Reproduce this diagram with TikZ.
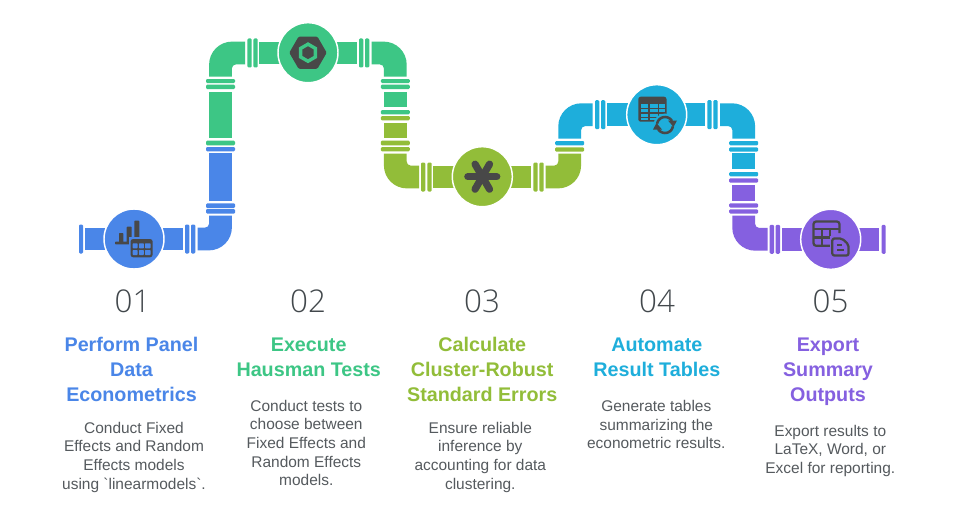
\documentclass[tikz,border=0pt]{standalone}
\usepackage{fontspec}
\setmainfont{Liberation Sans}
\newfontfamily\numfont{Open Sans Light}
\newfontfamily\bodyfont{Liberation Sans}
\definecolor{cblue}{HTML}{4A86E8}
\definecolor{cgreen}{HTML}{3DC685}
\definecolor{colive}{HTML}{92BD39}
\definecolor{ccyan}{HTML}{1EAEDB}
\definecolor{cpurple}{HTML}{8560E0}
\definecolor{cdark}{HTML}{484848}
\definecolor{cink}{HTML}{555A5E}
\definecolor{cnum}{HTML}{42484C}
\def\w{11.4}
\newcommand\hfl[4]{\fill[#1,rounded corners=.9pt] (#2,#4-14.5) rectangle (#3,#4+14.5);}
\newcommand\vfl[4]{\fill[#1,rounded corners=.9pt] (#4-14.5,#2) rectangle (#4+14.5,#3);}
\newcommand\hpipe[4]{\fill[#1] (#2,#4-\w) rectangle (#3,#4+\w);}
\newcommand\vpipe[4]{\fill[#1] (#4-\w,#2) rectangle (#4+\w,#3);}
\newcommand\elbow[7]{\fill[#1]
 ({#2},{#3+#7*\w}) -- ({#4+#6*(\w+4)},{#3+#7*\w})
 .. controls ({#4+#6*(\w+1.8)},{#3+#7*\w}) and ({#4+#6*\w},{#3+#7*(\w+1.8)}) .. ({#4+#6*\w},{#3+#7*(\w+4)})
 -- ({#4+#6*\w},{#5}) -- ({#4-#6*\w},{#5}) -- ({#4-#6*\w},{#3+#7*(23-\w)})
 .. controls ({#4-#6*\w},{#3+#7*(10.3-\w)}) and ({#4+#6*(10.3-\w)},{#3-#7*\w}) .. ({#4+#6*(23-\w)},{#3-#7*\w})
 -- ({#2},{#3-#7*\w}) -- cycle;}
\tikzset{
 x=.75pt,y=-.75pt,
 hub/.style={circle,draw=white,line width=1.1pt,minimum size=45pt,inner sep=0pt},
 num/.style={font=\numfont\fontsize{23.5}{28}\selectfont,text=cnum,inner sep=0pt},
 ttl/.style={font=\bfseries\fontsize{14.8}{18.75}\selectfont,align=center,inner sep=0pt,execute at begin node=\strut,execute at end node=\strut},
 bdy/.style={font=\bodyfont\fontsize{11.6}{14}\selectfont,align=center,text=cink,inner sep=0pt,execute at begin node=\strut,execute at end node=\strut},
 icon/.style={cdark},
 iconline/.style={draw=cdark,line width=1.7pt}
}
\begin{document}
\begin{tikzpicture}
\useasboundingbox (0,0) rectangle (980,517);
\fill[white] (0,0) rectangle (980,517);
% --- blue pipe
\hfl{cblue}{79}{83}{239}
\hpipe{cblue}{85}{110}{239}
\hpipe{cblue}{160}{183.3}{239}
\hfl{cblue}{185}{189.3}{239}
\hfl{cblue}{191}{195.3}{239}
\elbow{cblue}{197.7}{239}{220.5}{215.7}{-1}{-1}
\vfl{cblue}{203.3}{208}{220.5}
\vfl{cblue}{209}{213.7}{220.5}
\vpipe{cblue}{153.3}{200.7}{220.5}
\vfl{cblue}{147}{151.3}{220.5}
% --- green pipe
\vfl{cgreen}{140.7}{145.3}{220.5}
\vpipe{cgreen}{91.7}{138.3}{220.5}
\vfl{cgreen}{84.7}{89}{220.5}
\vfl{cgreen}{79}{83}{220.5}
\elbow{cgreen}{245}{53}{220.5}{76.5}{1}{1}
\hfl{cgreen}{247.3}{251.7}{53}
\hfl{cgreen}{253.3}{257.7}{53}
\hpipe{cgreen}{259.3}{285}{53}
\hpipe{cgreen}{330}{356.7}{53}
\hfl{cgreen}{359}{363.3}{53}
\hfl{cgreen}{365}{369.3}{53}
\elbow{cgreen}{371.7}{53}{395.3}{76.5}{-1}{1}
\vfl{cgreen}{79}{83}{395.3}
\vfl{cgreen}{84.7}{89}{395.3}
\vpipe{cgreen}{91.7}{107.3}{395.3}
\vfl{cgreen}{110}{114.3}{395.3}
% --- olive pipe
\vfl{colive}{116}{120.3}{395.3}
\vpipe{colive}{122.7}{138.3}{395.3}
\vfl{colive}{140.7}{145.3}{395.3}
\vfl{colive}{147}{151.3}{395.3}
\elbow{colive}{419}{177}{395.3}{153.7}{1}{-1}
\hfl{colive}{421}{425.3}{177}
\hfl{colive}{427.3}{431.7}{177}
\hpipe{colive}{433.3}{460}{177}
\hpipe{colive}{505}{531}{177}
\hfl{colive}{533.3}{537.7}{177}
\hfl{colive}{539.3}{543.7}{177}
\elbow{colive}{545.7}{177}{569.7}{153.5}{-1}{-1}
\vfl{colive}{147.3}{151.7}{569.7}
% --- cyan pipe
\vfl{ccyan}{141}{145.3}{569.7}
\elbow{ccyan}{592.7}{114.7}{569.7}{138.5}{1}{1}
\hfl{ccyan}{595}{599.3}{114.7}
\hfl{ccyan}{601}{605.3}{114.7}
\hpipe{ccyan}{607.3}{635}{114.7}
\hpipe{ccyan}{680}{705}{114.7}
\hfl{ccyan}{707.3}{711.7}{114.7}
\hfl{ccyan}{713.3}{717.7}{114.7}
\elbow{ccyan}{720}{114.7}{743.7}{138.5}{-1}{1}
\vfl{ccyan}{141}{145.3}{743.7}
\vfl{ccyan}{147.3}{151.7}{743.7}
\vpipe{ccyan}{153.3}{169.3}{743.7}
\vfl{ccyan}{172}{176.3}{743.7}
% --- purple pipe
\vfl{cpurple}{178.3}{182.7}{743.7}
\vpipe{cpurple}{184.7}{200.7}{743.7}
\vfl{cpurple}{203.3}{207.5}{743.7}
\vfl{cpurple}{209.3}{213.5}{743.7}
\elbow{cpurple}{767.7}{239.3}{743.7}{215.7}{1}{-1}
\hfl{cpurple}{769.7}{774}{239.3}
\hfl{cpurple}{775.7}{780}{239.3}
\hpipe{cpurple}{782}{810}{239.3}
\hpipe{cpurple}{850}{879.3}{239.3}
\hfl{cpurple}{881.7}{885.7}{239.3}
% --- hubs
\node[hub,fill=cblue] (hub1) at (134,239) {};
\node[hub,fill=cgreen] (hub2) at (308,52.7) {};
\node[hub,fill=colive] (hub3) at (482.3,176.7) {};
\node[hub,fill=ccyan] (hub4) at (656.7,114.7) {};
\node[hub,fill=cpurple] (hub5) at (830.7,239.3) {};
% --- icon 1
\fill[icon,rounded corners=.5pt] (115,241.7) rectangle (131,244.3);
\fill[icon,rounded corners=.5pt] (119,233) rectangle (123.3,243);
\fill[icon,rounded corners=.5pt] (126.7,226.7) rectangle (131.7,243);
\fill[icon,rounded corners=.5pt] (134.3,220.7) rectangle (139.3,238);
\fill[cblue] (128.5,237.2) rectangle (154.5,259);
\fill[icon,rounded corners=2pt] (130.5,239) rectangle (152.7,257.3);
\foreach \cx/\cw in {132.7/4.9,139/4.9,145/5.5}
 \foreach \cy in {243.3,250}
  \fill[cblue,rounded corners=.5pt] (\cx,\cy) rectangle (\cx+\cw,\cy+5);
% --- icon 2
\fill[icon,rounded corners=1pt] (326.7,52.7) \foreach \a in {60,120,...,300} {-- ({308+18.7*cos(\a)},{52.7+18.7*sin(\a)})} -- cycle;
\fill[cgreen] (308,42.2) \foreach \a in {-30,30,...,210} {-- ({308+10.5*cos(\a)},{52.7+10.5*sin(\a)})} -- cycle;
\fill[icon] (308,46.3) \foreach \a in {-30,30,...,210} {-- ({308+6.4*cos(\a)},{52.7+6.4*sin(\a)})} -- cycle;
% --- icon 3
\foreach \a in {0,60,120}
 \draw[cdark,line width=5.4pt,line cap=round] ({482.3-14.5*cos(\a)},{176.7-14.5*sin(\a)}) -- ({482.3+14.5*cos(\a)},{176.7+14.5*sin(\a)});
% --- icon 4
\fill[icon,rounded corners=1.8pt] (638.3,96.7) rectangle (666.5,121.7);
\foreach \cx/\cw in {640.6/7.6,650/7.6,659.4/5.2}
 \foreach \cy/\ch in {104.2/3.4,109/3.4,113.8/3.4,118.2/1.8}
  \fill[ccyan] (\cx,\cy) rectangle (\cx+\cw,\cy+\ch);
\fill[ccyan] (665,125) circle[radius=11.5];
\draw[cdark,line width=1.9pt] plot[domain=190:330,samples=20] ({665+8*cos(\x)},{125+8*sin(\x)});
\draw[cdark,line width=1.9pt] plot[domain=10:150,samples=20] ({665+8*cos(\x)},{125+8*sin(\x)});
\fill[icon] (668,120.5) -- (677,120.5) -- (673.5,127) -- cycle;
\fill[icon] (653,129.5) -- (662,129.5) -- (656.5,123) -- cycle;
% --- icon 5
\draw[iconline,rounded corners=2pt] (839.5,233) -- (839.5,221.5) -- (813.5,221.5) -- (813.5,245.8) -- (830,245.8);
\draw[iconline] (813.5,229) -- (839.5,229);
\draw[iconline] (813.5,237.5) -- (830,237.5);
\draw[iconline] (821.7,229) -- (821.7,245.8);
\draw[iconline] (830,229) -- (830,237.5);
\fill[cpurple] (829.5,235.5) rectangle (851,258);
\draw[iconline,rounded corners=1.5pt,line join=round] (832.3,238.5) -- (842,238.5) -- (848.5,244.5) -- (848.5,255.5) -- (832.3,255.5) -- cycle;
\draw[cdark,line width=1.5pt] (837,244.8) -- (842,244.8);
\draw[cdark,line width=1.5pt] (837,249.5) -- (844,249.5);
% --- numbers
\node[num] (n1) at (132.5,301.5) {01};
\node[num] (n2) at (308,301.5) {02};
\node[num] (n3) at (482,301.5) {03};
\node[num] (n4) at (657,301.5) {04};
\node[num] (n5) at (830.5,301.5) {05};
% --- titles
\node[ttl,text=cblue] (t1) at (131.5,373.4) {Perform Panel\\Data\\Econometrics};
\node[ttl,text=cgreen] (t2) at (308.7,360.9) {Execute\\Hausman Tests};
\node[ttl,text=colive] (t3) at (482.2,373.4) {Calculate\\Cluster-Robust\\Standard Errors};
\node[ttl,text=ccyan] (t4) at (656.8,360.9) {Automate\\Result Tables};
\node[ttl,text=cpurple] (t5) at (828,373.4) {Export\\Summary\\Outputs};
% --- bodies
\node[bdy] (b1) at (134,458.3) {Conduct Fixed\\Effects and Random\\Effects models\\using `linearmodels`.};
\node[bdy] (b2) at (306.3,445.8) {Conduct tests to\\choose between\\Fixed Effects and\\Random Effects\\models.};
\node[bdy] (b3) at (480.3,458.3) {Ensure reliable\\inference by\\accounting for data\\clustering.};
\node[bdy] (b4) at (656.3,427.5) {Generate tables\\summarizing the\\econometric results.};
\node[bdy] (b5) at (830.3,452.1) {Export results to\\LaTeX, Word, or\\Excel for reporting.};
\end{tikzpicture}
\end{document}
